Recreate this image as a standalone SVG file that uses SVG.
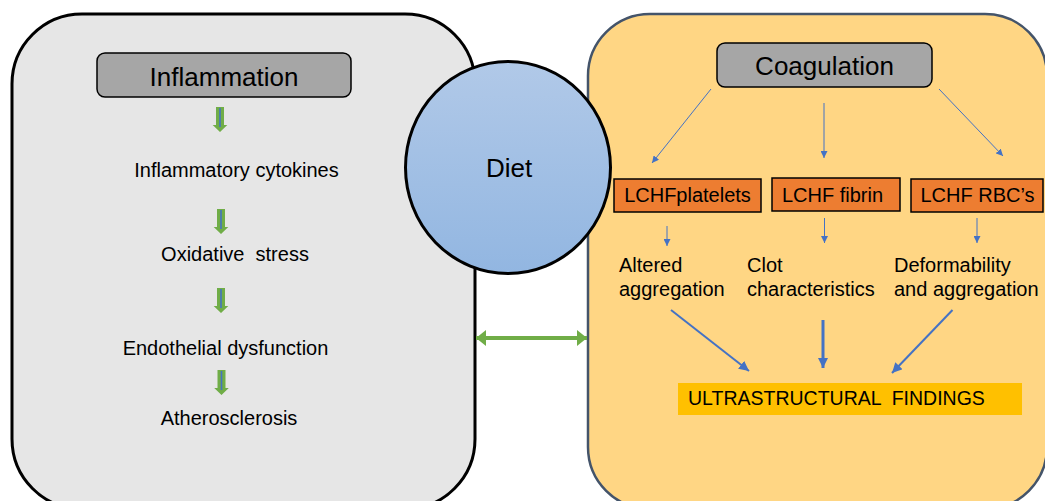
<svg xmlns="http://www.w3.org/2000/svg" width="1045" height="501" viewBox="0 0 1045 501">
<defs>
<style>
text{font-family:"Liberation Sans",Arial,sans-serif;fill:#000}
.t20{font-size:20px}
.t26{font-size:26px}
.thin{stroke:#4472c4;stroke-width:1;fill:none}
.thick{stroke:#4472c4;stroke-width:2;fill:none}
.orange{fill:#ed7d31;stroke:#000;stroke-width:1.5}
.gray{fill:#a6a6a6;stroke:#000;stroke-width:1.5}
</style>
<linearGradient id="dietGrad" x1="0" y1="0" x2="0" y2="1">
<stop offset="0" stop-color="#b1c9e8"/>
<stop offset="1" stop-color="#92b6e1"/>
</linearGradient>
<marker id="ahThin" viewBox="0 0 10 10" refX="10" refY="5" markerWidth="7" markerHeight="7" markerUnits="userSpaceOnUse" orient="auto">
<path d="M0,0 L10,5 L0,10 z" fill="#4472c4"/>
</marker>
<marker id="ahThick" viewBox="0 0 10 10" refX="10" refY="5" markerWidth="10" markerHeight="10" markerUnits="userSpaceOnUse" orient="auto">
<path d="M0,0 L10,5 L0,10 z" fill="#4472c4"/>
</marker>
<marker id="ahGreen" viewBox="0 0 10 16" refX="10" refY="8" markerWidth="11" markerHeight="16" markerUnits="userSpaceOnUse" orient="auto-start-reverse">
<path d="M0,0 L10,8 L0,16 z" fill="#70ad47"/>
</marker>
<g id="blockArrow">
<path d="M-4,0 L4,0 L4,18 L7.3,18 L0,25 L-7.3,18 L-4,18 z" fill="#70ad47"/>
<line x1="0" y1="1" x2="0" y2="20" stroke="#4472c4" stroke-width="1.6"/>
</g>
</defs>

<g id="inflammation-panel">
<rect x="12" y="14" width="463" height="495" rx="70" ry="70" fill="#e6e6e6" stroke="#000" stroke-width="3"/>
</g>
<g id="coagulation-panel">
<rect x="588" y="14" width="459" height="495" rx="62" ry="62" fill="#ffd684" stroke="#44546a" stroke-width="2.5"/>
</g>

<g id="diet">
<ellipse cx="508" cy="167.5" rx="102.5" ry="106" fill="url(#dietGrad)" stroke="#000" stroke-width="3"/>
<text class="t26" x="509" y="177" text-anchor="middle">Diet</text>
</g>

<g id="inflammation">
<rect class="gray" x="97" y="53" width="254" height="44" rx="8"/>
<text class="t26" x="224" y="85.5" text-anchor="middle">Inflammation</text>
</g>
<g id="cytokines"><text class="t20" x="236.5" y="176.5" text-anchor="middle">Inflammatory cytokines</text></g>
<g id="oxidative"><text class="t20" x="235" y="260.5" text-anchor="middle" xml:space="preserve">Oxidative  stress</text></g>
<g id="endothelial"><text class="t20" x="225.5" y="354.5" text-anchor="middle">Endothelial dysfunction</text></g>
<g id="atherosclerosis"><text class="t20" x="229" y="424.5" text-anchor="middle">Atherosclerosis</text></g>

<g id="coagulation">
<rect class="gray" x="717" y="43" width="215" height="44" rx="8"/>
<text class="t26" x="824.5" y="75" text-anchor="middle">Coagulation</text>
</g>
<g id="lchf-platelets">
<rect class="orange" x="614" y="179" width="147" height="33"/>
<text class="t20" x="687.5" y="202" text-anchor="middle">LCHFplatelets</text>
</g>
<g id="lchf-fibrin">
<rect class="orange" x="772" y="178" width="128" height="33"/>
<text class="t20" x="832.5" y="202" text-anchor="middle">LCHF fibrin</text>
</g>
<g id="lchf-rbc">
<rect class="orange" x="911" y="179" width="132" height="33"/>
<text class="t20" x="977.5" y="202" text-anchor="middle">LCHF RBC’s</text>
</g>
<g id="altered-aggregation">
<text class="t20" x="619" y="272">Altered</text>
<text class="t20" x="619" y="295.5">aggregation</text>
</g>
<g id="clot-characteristics">
<text class="t20" x="747" y="272">Clot</text>
<text class="t20" x="747" y="295.5">characteristics</text>
</g>
<g id="deformability">
<text class="t20" x="894" y="272">Deformability</text>
<text class="t20" x="894" y="295.5">and aggregation</text>
</g>
<g id="ultrastructural">
<rect x="678" y="383" width="344" height="32" fill="#ffc000"/>
<text x="688" y="405" style="font-size:19.5px" xml:space="preserve">ULTRASTRUCTURAL  FINDINGS</text>
</g>

<g id="connectors">
<use href="#blockArrow" x="220" y="107"/>
<use href="#blockArrow" x="221" y="209"/>
<use href="#blockArrow" x="221" y="288"/>
<use href="#blockArrow" x="221.5" y="370"/>

<line class="thin" x1="711" y1="89" x2="652" y2="163" marker-end="url(#ahThin)"/>
<line class="thin" x1="824" y1="103" x2="824" y2="158" marker-end="url(#ahThin)"/>
<line class="thin" x1="939" y1="89" x2="1003" y2="156" marker-end="url(#ahThin)"/>

<line class="thin" x1="667" y1="226" x2="667" y2="246" marker-end="url(#ahThin)"/>
<line class="thin" x1="824.5" y1="218" x2="824.5" y2="243" marker-end="url(#ahThin)"/>
<line class="thin" x1="977" y1="218" x2="977" y2="243" marker-end="url(#ahThin)"/>

<line class="thick" x1="671" y1="310" x2="749" y2="371" marker-end="url(#ahThick)"/>
<line x1="823" y1="320" x2="823" y2="368" stroke="#4472c4" stroke-width="3" marker-end="url(#ahThick)"/>
<line class="thick" x1="952.5" y1="310" x2="892" y2="373" marker-end="url(#ahThick)"/>

<line x1="476" y1="338" x2="587" y2="338" stroke="#70ad47" stroke-width="4" marker-start="url(#ahGreen)" marker-end="url(#ahGreen)"/>
</g>
</svg>
